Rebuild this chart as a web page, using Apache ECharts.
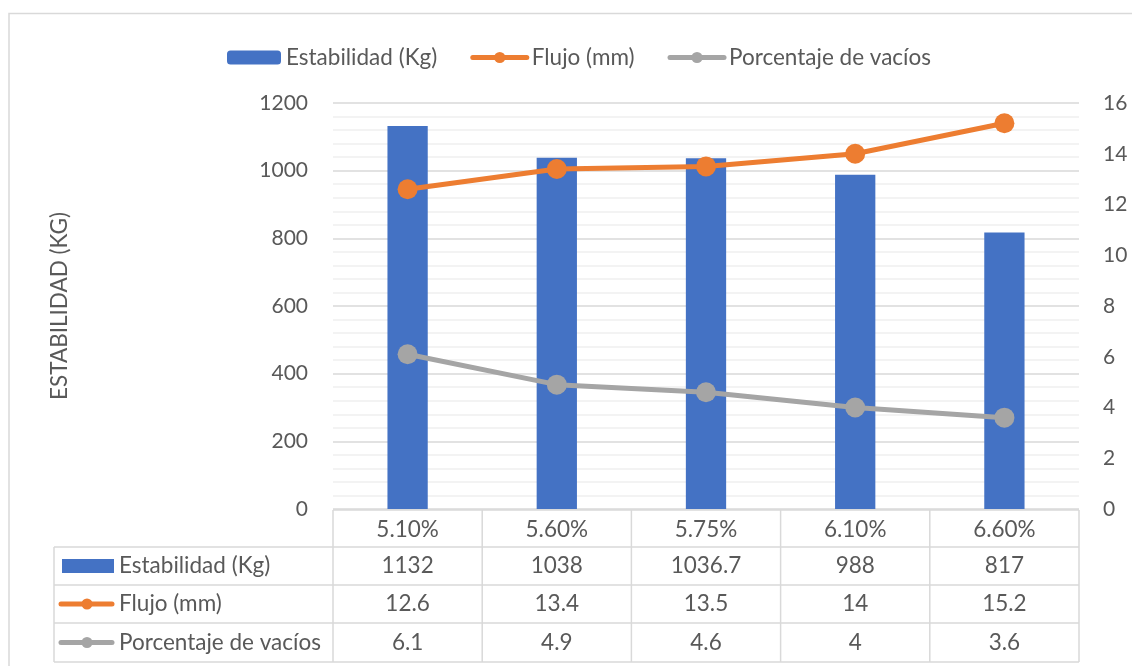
<!DOCTYPE html>
<html>
<head>
<meta charset="utf-8">
<script src="https://cdn.jsdelivr.net/npm/echarts@6/dist/echarts.min.js"></script>
<style>
  html, body { margin: 0; padding: 0; background: #fff; }
  #chart { width: 1132px; height: 666px; }
</style>
</head>
<body>
<div id="chart"></div>
<script>
// datos
const categories = ['5.10%', '5.60%', '5.75%', '6.10%', '6.60%'];
const estabilidad = [1132, 1038, 1036.7, 988, 817];
const flujo = [12.6, 13.4, 13.5, 14, 15.2];
const vacios = [6.1, 4.9, 4.6, 4, 3.6];
const seriesNames = ['Estabilidad (Kg)', 'Flujo (mm)', 'Porcentaje de vacíos'];
const leftAxisRange = [0, 1200, 200];
const rightAxisRange = [0, 16, 2];

const FONT = 'Lato';
const FS = 21;      // etiquetas de ejes
const FS_T = 22.5;  // leyenda y tabla
const TXT = '#595959';
const GRID_LINE = '#d9d9d9';
const colors = ['#4472c4', '#ed7d31', '#a5a5a5'];

const chart = echarts.init(document.getElementById('chart'));

chart.setOption({
  animation: false,
  textStyle: { fontFamily: FONT, color: TXT },
  legend: {
    left: 222,
    top: 41,
    itemGap: 33,
    itemWidth: 54,
    itemHeight: 14,
    lineStyle: { width: 5 },
    textStyle: { fontFamily: FONT, fontSize: FS_T, color: TXT },
    data: seriesNames
  },
  grid: { left: 333, right: 53, top: 103, bottom: 157 },
  xAxis: {
    type: 'category',
    data: categories,
    axisLine: { show: false },
    axisTick: { show: false },
    axisLabel: { fontFamily: FONT, fontSize: FS_T, color: TXT, margin: 9 }
  },
  yAxis: [
    {
      type: 'value',
      min: leftAxisRange[0], max: leftAxisRange[1], interval: leftAxisRange[2],
      name: 'ESTABILIDAD (KG)',
      nameLocation: 'middle',
      nameGap: 262,
      nameTextStyle: { fontFamily: FONT, fontSize: 22.5, color: TXT },
      axisLine: { show: false },
      axisTick: { show: false },
      axisLabel: { fontFamily: FONT, fontSize: FS, color: TXT, margin: 25, formatter: v => String(v) },
      splitLine: { lineStyle: { color: GRID_LINE, width: 1.5 } },
      minorTick: { show: false, splitNumber: 5 },
      minorSplitLine: { show: true, lineStyle: { color: '#f0f0f0', width: 1.5 } }
    },
    {
      type: 'value',
      min: rightAxisRange[0], max: rightAxisRange[1], interval: rightAxisRange[2],
      axisLine: { show: false },
      axisTick: { show: false },
      axisLabel: { fontFamily: FONT, fontSize: FS, color: TXT, margin: 24 },
      splitLine: { show: false }
    }
  ],
  series: [
    {
      name: seriesNames[0],
      type: 'bar',
      data: estabilidad,
      barWidth: '27%',
      itemStyle: { color: colors[0] }
    },
    {
      name: seriesNames[1],
      type: 'line',
      yAxisIndex: 1,
      data: flujo,
      symbol: 'circle',
      symbolSize: 20,
      lineStyle: { color: colors[1], width: 5, cap: 'round' },
      itemStyle: { color: colors[1] }
    },
    {
      name: seriesNames[2],
      type: 'line',
      yAxisIndex: 1,
      data: vacios,
      symbol: 'circle',
      symbolSize: 20,
      lineStyle: { color: colors[2], width: 5, cap: 'round' },
      itemStyle: { color: colors[2] }
    }
  ]
});

// tabla de datos bajo el gráfico
const rows = [estabilidad, flujo, vacios];
const x0 = chart.convertToPixel({ xAxisIndex: 0 }, categories[0]);
const x1 = chart.convertToPixel({ xAxisIndex: 0 }, categories[1]);
const band = x1 - x0;
const tLeft = x0 - band / 2;
const tRight = tLeft + band * categories.length;
const labelLeft = 54;
const rowY = [510, 547, 585, 623, 662];
const line = (xa, ya, xb, yb) => ({
  type: 'line', silent: true,
  shape: { x1: xa, y1: ya, x2: xb, y2: yb },
  style: { stroke: GRID_LINE, lineWidth: 1.5 }
});

const g = [];
// marco exterior
g.push({ type: 'rect', silent: true, shape: { x: 9, y: 13.5, width: 1200, height: 700 },
  style: { fill: 'none', stroke: GRID_LINE, lineWidth: 1.5 } });

g.push(line(tLeft, rowY[0], tRight, rowY[0]));
for (let r = 1; r < rowY.length; r++) g.push(line(labelLeft, rowY[r], tRight, rowY[r]));
for (let c = 0; c <= categories.length; c++) {
  const x = tLeft + band * c;
  g.push(line(x, rowY[0], x, rowY[4]));
}
g.push(line(labelLeft, rowY[1], labelLeft, rowY[4]));

rows.forEach((vals, r) => {
  const cy = (rowY[r + 1] + rowY[r + 2]) / 2;
  // clave de la serie
  if (r === 0) {
    g.push({ type: 'rect', silent: true, shape: { x: 62, y: cy - 7, width: 52, height: 14 },
      style: { fill: colors[0] } });
  } else {
    g.push({ type: 'line', silent: true, shape: { x1: 61, y1: cy, x2: 112, y2: cy },
      style: { stroke: colors[r], lineWidth: 5, lineCap: 'round' } });
    g.push({ type: 'circle', silent: true, shape: { cx: 87, cy: cy, r: 5.5 },
      style: { fill: colors[r] } });
  }
  g.push({ type: 'text', silent: true, x: 119, y: cy,
    style: { text: seriesNames[r], fill: TXT, font: FS_T + 'px ' + FONT, verticalAlign: 'middle', align: 'left' } });
  vals.forEach((v, c) => {
    const cx = chart.convertToPixel({ xAxisIndex: 0 }, categories[c]);
    g.push({ type: 'text', silent: true, x: cx, y: cy,
      style: { text: String(v), fill: TXT, font: FS_T + 'px ' + FONT, align: 'center', verticalAlign: 'middle' } });
  });
});

chart.setOption({ graphic: g });
</script>
</body>
</html>
